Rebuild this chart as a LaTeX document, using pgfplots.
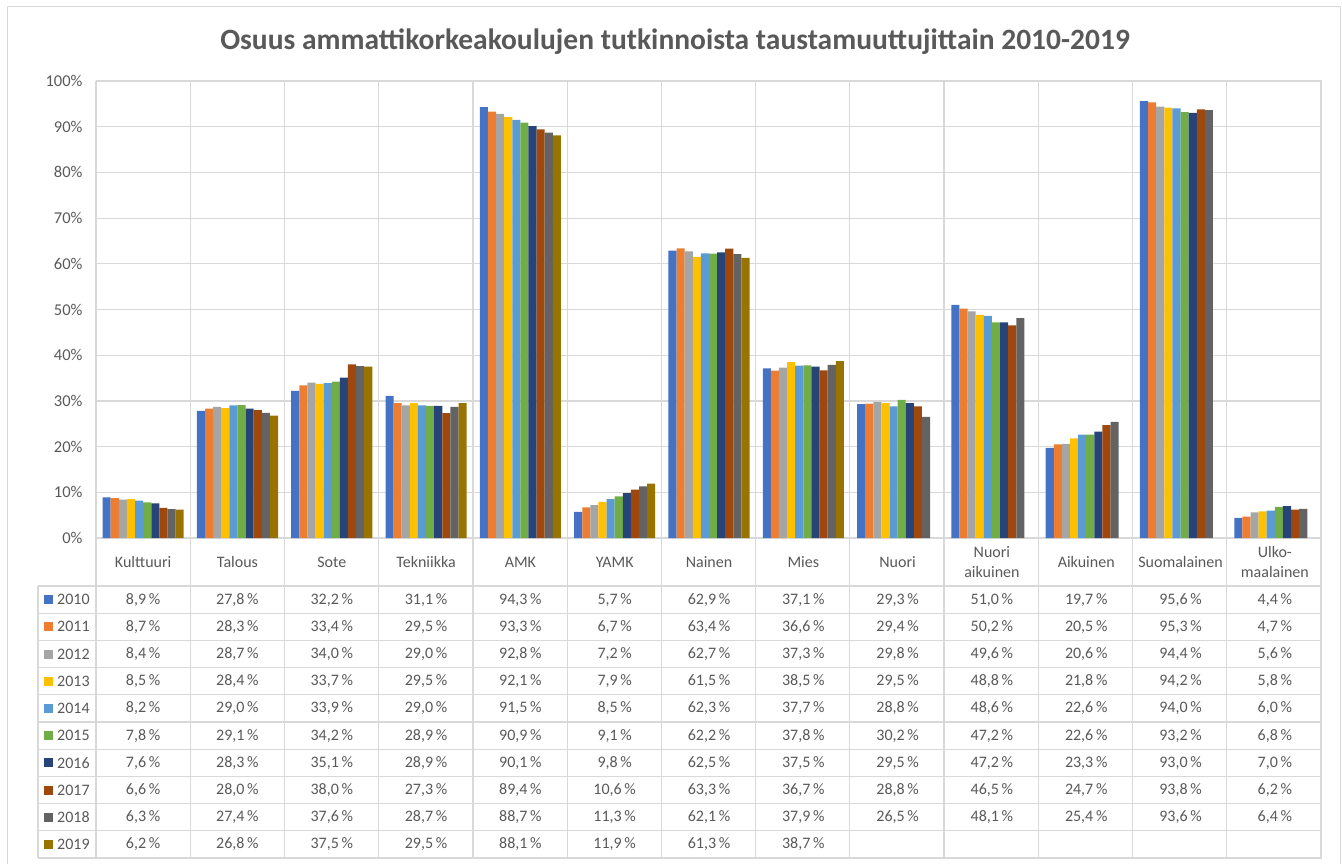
\documentclass[border=0pt]{standalone}
\usepackage{fontspec}
\setmainfont{Carlito}
\usepackage{pgfplots}
\pgfplotsset{compat=1.18}
\usepackage{pgfplotstable}
\definecolor{cA}{HTML}{4472C4}
\definecolor{cB}{HTML}{ED7D31}
\definecolor{cC}{HTML}{A5A5A5}
\definecolor{cD}{HTML}{FFC000}
\definecolor{cE}{HTML}{5B9BD5}
\definecolor{cF}{HTML}{70AD47}
\definecolor{cG}{HTML}{264478}
\definecolor{cH}{HTML}{9E480E}
\definecolor{cI}{HTML}{636363}
\definecolor{cJ}{HTML}{997300}
\definecolor{txt}{HTML}{595959}
\definecolor{gridc}{HTML}{D9D9D9}

% columns: category index, value (%)
\pgfplotstableread{
x v
0 8.9
1 27.8
2 32.2
3 31.1
4 94.3
5 5.7
6 62.9
7 37.1
8 29.3
9 51.0
10 19.7
11 95.6
12 4.4
}\tbA
\pgfplotstableread{
x v
0 8.7
1 28.3
2 33.4
3 29.5
4 93.3
5 6.7
6 63.4
7 36.6
8 29.4
9 50.2
10 20.5
11 95.3
12 4.7
}\tbB
\pgfplotstableread{
x v
0 8.4
1 28.7
2 34.0
3 29.0
4 92.8
5 7.2
6 62.7
7 37.3
8 29.8
9 49.6
10 20.6
11 94.4
12 5.6
}\tbC
\pgfplotstableread{
x v
0 8.5
1 28.4
2 33.7
3 29.5
4 92.1
5 7.9
6 61.5
7 38.5
8 29.5
9 48.8
10 21.8
11 94.2
12 5.8
}\tbD
\pgfplotstableread{
x v
0 8.2
1 29.0
2 33.9
3 29.0
4 91.5
5 8.5
6 62.3
7 37.7
8 28.8
9 48.6
10 22.6
11 94.0
12 6.0
}\tbE
\pgfplotstableread{
x v
0 7.8
1 29.1
2 34.2
3 28.9
4 90.9
5 9.1
6 62.2
7 37.8
8 30.2
9 47.2
10 22.6
11 93.2
12 6.8
}\tbF
\pgfplotstableread{
x v
0 7.6
1 28.3
2 35.1
3 28.9
4 90.1
5 9.8
6 62.5
7 37.5
8 29.5
9 47.2
10 23.3
11 93.0
12 7.0
}\tbG
\pgfplotstableread{
x v
0 6.6
1 28.0
2 38.0
3 27.3
4 89.4
5 10.6
6 63.3
7 36.7
8 28.8
9 46.5
10 24.7
11 93.8
12 6.2
}\tbH
\pgfplotstableread{
x v
0 6.3
1 27.4
2 37.6
3 28.7
4 88.7
5 11.3
6 62.1
7 37.9
8 26.5
9 48.1
10 25.4
11 93.6
12 6.4
}\tbI
\pgfplotstableread{
x v
0 6.2
1 26.8
2 37.5
3 29.5
4 88.1
5 11.9
6 61.3
7 38.7
}\tbJ

\newcommand{\fs}{\fontsize{16}{20}\selectfont}

\pgfplotsset{
  barstyle/.style={ybar, bar width=0.086, draw=none, fill=#1},
  rowtext/.style={draw=none, mark=none, point meta=explicit,
    nodes near coords={\pgfmathprintnumber[fixed,fixed zerofill,precision=1,use comma]{\pgfplotspointmeta}\,\%},
    every node near coord/.append style={anchor=center, inner sep=0pt, font=\fs, text=txt}},
}

\begin{document}
\begin{tikzpicture}
\path[use as bounding box] (0pt,0pt) rectangle (1342pt,-864pt);
\draw[gridc, line width=1pt] (7pt,-7pt) rectangle (1340pt,-890pt);
\node[font=\fontsize{29.5}{34}\selectfont\bfseries, text=txt] at (675pt,-42pt) {Osuus ammattikorkeakoulujen tutkinnoista taustamuuttujittain 2010-2019};
% table / category grid
\foreach \k in {0,...,13} {
  \draw[gridc, line width=1.2pt] ({(96+94.2308*\k)*1pt},-81pt) -- ({(96+94.2308*\k)*1pt},-858pt);
}
\foreach \k in {0,...,10} {
  \draw[gridc, line width=1.2pt] (38pt,{-(586+27.2*\k)*1pt}) -- (1322pt,{-(586+27.2*\k)*1pt});
}
\draw[gridc, line width=1.2pt] (38pt,-586pt) -- (38pt,-858pt);
% legend keys in the table
\foreach \yr/\c [count=\i from 0] in {2010/cA,2011/cB,2012/cC,2013/cD,2014/cE,2015/cF,2016/cG,2017/cH,2018/cI,2019/cJ} {
  \pgfmathsetmacro\yy{-(599.6+27.2*\i)}
  \fill[\c] (43.5pt,{(\yy-4.5)*1pt}) rectangle ++(9pt,9pt);
  \node[anchor=west, inner sep=0pt, font=\fs, text=txt] at (57pt,\yy pt) {\yr};
}
\begin{axis}[
  at={(96pt,-538pt)}, anchor=south west,
  width=1226pt, height=457pt, scale only axis,
  xmin=-0.5, xmax=12.5, ymin=0, ymax=100,
  clip=false,
  axis line style={draw=none},
  major tick length=0pt,
  ymajorgrids, grid style={gridc, line width=1.2pt},
  ytick={0,10,...,100},
  yticklabel={\pgfmathprintnumber{\tick}\%},
  yticklabel style={font=\fontsize{16.5}{20}\selectfont, text=txt, anchor=east, xshift=-10pt},
  xtick={0,...,12},
  xticklabels={Kulttuuri,Talous,Sote,Tekniikka,AMK,YAMK,Nainen,Mies,Nuori,{Nuori\\aikuinen},Aikuinen,Suomalainen,{Ulko-\\maalainen}},
  xticklabel style={font=\fs, text=txt, align=center, anchor=center, yshift=-24pt},
  /pgf/number format/assume math mode=true,
]
\addplot[barstyle=cA, bar shift=-0.387] table[x=x,y=v]{\tbA};
\addplot[barstyle=cB, bar shift=-0.301] table[x=x,y=v]{\tbB};
\addplot[barstyle=cC, bar shift=-0.215] table[x=x,y=v]{\tbC};
\addplot[barstyle=cD, bar shift=-0.129] table[x=x,y=v]{\tbD};
\addplot[barstyle=cE, bar shift=-0.043] table[x=x,y=v]{\tbE};
\addplot[barstyle=cF, bar shift=0.043] table[x=x,y=v]{\tbF};
\addplot[barstyle=cG, bar shift=0.129] table[x=x,y=v]{\tbG};
\addplot[barstyle=cH, bar shift=0.215] table[x=x,y=v]{\tbH};
\addplot[barstyle=cI, bar shift=0.301] table[x=x,y=v]{\tbI};
\addplot[barstyle=cJ, bar shift=0.387] table[x=x,y=v]{\tbJ};
% data table rows
\addplot[rowtext] table[x=x, y expr=-13.48, meta=v]{\tbA};
\addplot[rowtext] table[x=x, y expr=-19.43, meta=v]{\tbB};
\addplot[rowtext] table[x=x, y expr=-25.38, meta=v]{\tbC};
\addplot[rowtext] table[x=x, y expr=-31.34, meta=v]{\tbD};
\addplot[rowtext] table[x=x, y expr=-37.29, meta=v]{\tbE};
\addplot[rowtext] table[x=x, y expr=-43.24, meta=v]{\tbF};
\addplot[rowtext] table[x=x, y expr=-49.19, meta=v]{\tbG};
\addplot[rowtext] table[x=x, y expr=-55.14, meta=v]{\tbH};
\addplot[rowtext] table[x=x, y expr=-61.10, meta=v]{\tbI};
\addplot[rowtext] table[x=x, y expr=-67.05, meta=v]{\tbJ};
\end{axis}
\end{tikzpicture}
\end{document}
